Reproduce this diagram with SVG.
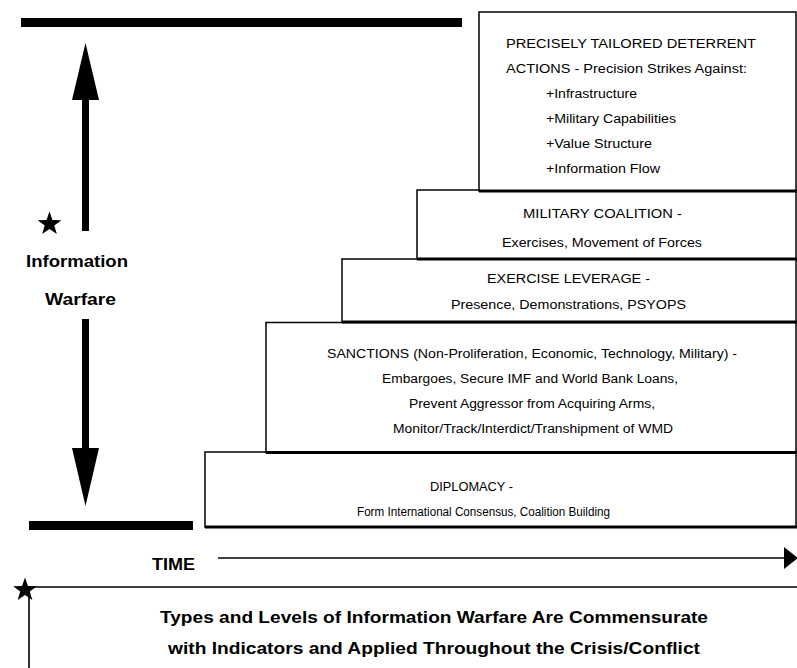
<svg xmlns="http://www.w3.org/2000/svg" width="797" height="668" viewBox="0 0 797 668">
<style>
.box{fill:#fff;stroke:#000;stroke-width:1.5}
.shade{stroke:#000;stroke-width:3;fill:none}
.t{font-family:"Liberation Sans",Arial,sans-serif;font-size:12px;fill:#000}
.b{font-family:"Liberation Sans",Arial,sans-serif;font-size:17px;font-weight:bold;fill:#000}
.ln{stroke:#000;stroke-width:1.6;fill:none}
</style>
<defs>
<path id="star" d="M0,-12.5 L2.94,-4.05 L11.89,-3.86 L4.76,1.55 L7.35,10.11 L0,5 L-7.35,10.11 L-4.76,1.55 L-11.89,-3.86 L-2.94,-4.05 Z" fill="#000"/>
</defs>
<rect width="797" height="668" fill="#fff"/>

<g id="scale">
<rect x="21" y="18" width="441" height="9" fill="#000"/>
<rect x="29" y="521" width="164" height="9" fill="#000"/>
<use href="#star" x="49.5" y="224"/>
<text class="b" x="26" y="267" textLength="102" lengthAdjust="spacingAndGlyphs">Information</text>
<text class="b" x="45" y="305" textLength="71" lengthAdjust="spacingAndGlyphs">Warfare</text>
</g>

<g id="connectors">
<rect x="82" y="99" width="7" height="132" fill="#000"/>
<polygon points="85.5,43 99,100 72,100" fill="#000"/>
<rect x="82" y="319" width="7" height="130" fill="#000"/>
<polygon points="72,448 99,448 85.5,506" fill="#000"/>
<line class="ln" x1="218" y1="558" x2="787" y2="558"/>
<polygon points="784,547 798,558 784,569" fill="#000"/>
</g>

<g id="diplomacy">
<rect class="box" x="205" y="452" width="591" height="75"/>
<line class="shade" x1="205" y1="527" x2="797" y2="527"/>
<text class="t" x="430" y="491" textLength="83" lengthAdjust="spacingAndGlyphs">DIPLOMACY -</text>
<text class="t" x="357" y="516" textLength="253" lengthAdjust="spacingAndGlyphs">Form International Consensus, Coalition Building</text>
</g>

<g id="sanctions">
<rect class="box" x="266" y="322.5" width="530" height="130"/>
<line class="shade" x1="266" y1="452.5" x2="797" y2="452.5"/>
<text class="t" x="327" y="358" textLength="410" lengthAdjust="spacingAndGlyphs">SANCTIONS (Non-Proliferation, Economic, Technology, Military) -</text>
<text class="t" x="382" y="383" textLength="296" lengthAdjust="spacingAndGlyphs">Embargoes, Secure IMF and World Bank Loans,</text>
<text class="t" x="409" y="408" textLength="246" lengthAdjust="spacingAndGlyphs">Prevent Aggressor from Acquiring Arms,</text>
<text class="t" x="393" y="433" textLength="280" lengthAdjust="spacingAndGlyphs">Monitor/Track/Interdict/Transhipment of WMD</text>
</g>

<g id="exercise-leverage">
<rect class="box" x="342" y="259" width="454" height="63"/>
<line class="shade" x1="342" y1="322" x2="797" y2="322"/>
<text class="t" x="487" y="283" textLength="163" lengthAdjust="spacingAndGlyphs">EXERCISE LEVERAGE -</text>
<text class="t" x="451" y="309" textLength="235" lengthAdjust="spacingAndGlyphs">Presence, Demonstrations, PSYOPS</text>
</g>

<g id="military-coalition">
<rect class="box" x="417" y="190" width="379" height="69"/>
<line class="shade" x1="417" y1="259" x2="797" y2="259"/>
<text class="t" x="523" y="218" textLength="159" lengthAdjust="spacingAndGlyphs">MILITARY COALITION -</text>
<text class="t" x="502" y="247" textLength="200" lengthAdjust="spacingAndGlyphs">Exercises, Movement of Forces</text>
</g>

<g id="deterrent-actions">
<rect class="box" x="479" y="12" width="317" height="179"/>
<line class="shade" x1="479" y1="191" x2="797" y2="191"/>
<text class="t" x="506" y="48" textLength="250" lengthAdjust="spacingAndGlyphs">PRECISELY TAILORED DETERRENT</text>
<text class="t" x="506" y="73" textLength="241" lengthAdjust="spacingAndGlyphs">ACTIONS - Precision Strikes Against:</text>
<text class="t" x="546" y="98" textLength="91" lengthAdjust="spacingAndGlyphs">+Infrastructure</text>
<text class="t" x="546" y="123" textLength="130" lengthAdjust="spacingAndGlyphs">+Military Capabilities</text>
<text class="t" x="546" y="148" textLength="106" lengthAdjust="spacingAndGlyphs">+Value Structure</text>
<text class="t" x="546" y="173" textLength="114" lengthAdjust="spacingAndGlyphs">+Information Flow</text>
</g>

<g id="time">
<text class="b" x="152" y="570" textLength="43" lengthAdjust="spacingAndGlyphs">TIME</text>
</g>

<g id="note">
<line class="ln" x1="29" y1="587" x2="797" y2="587"/>
<line class="ln" x1="29" y1="587" x2="29" y2="668"/>
<use href="#star" x="25" y="590"/>
<text class="b" x="160" y="623" textLength="548" lengthAdjust="spacingAndGlyphs">Types and Levels of Information Warfare Are Commensurate</text>
<text class="b" x="168" y="654" textLength="532" lengthAdjust="spacingAndGlyphs">with Indicators and Applied Throughout the Crisis/Conflict</text>
</g>
</svg>
